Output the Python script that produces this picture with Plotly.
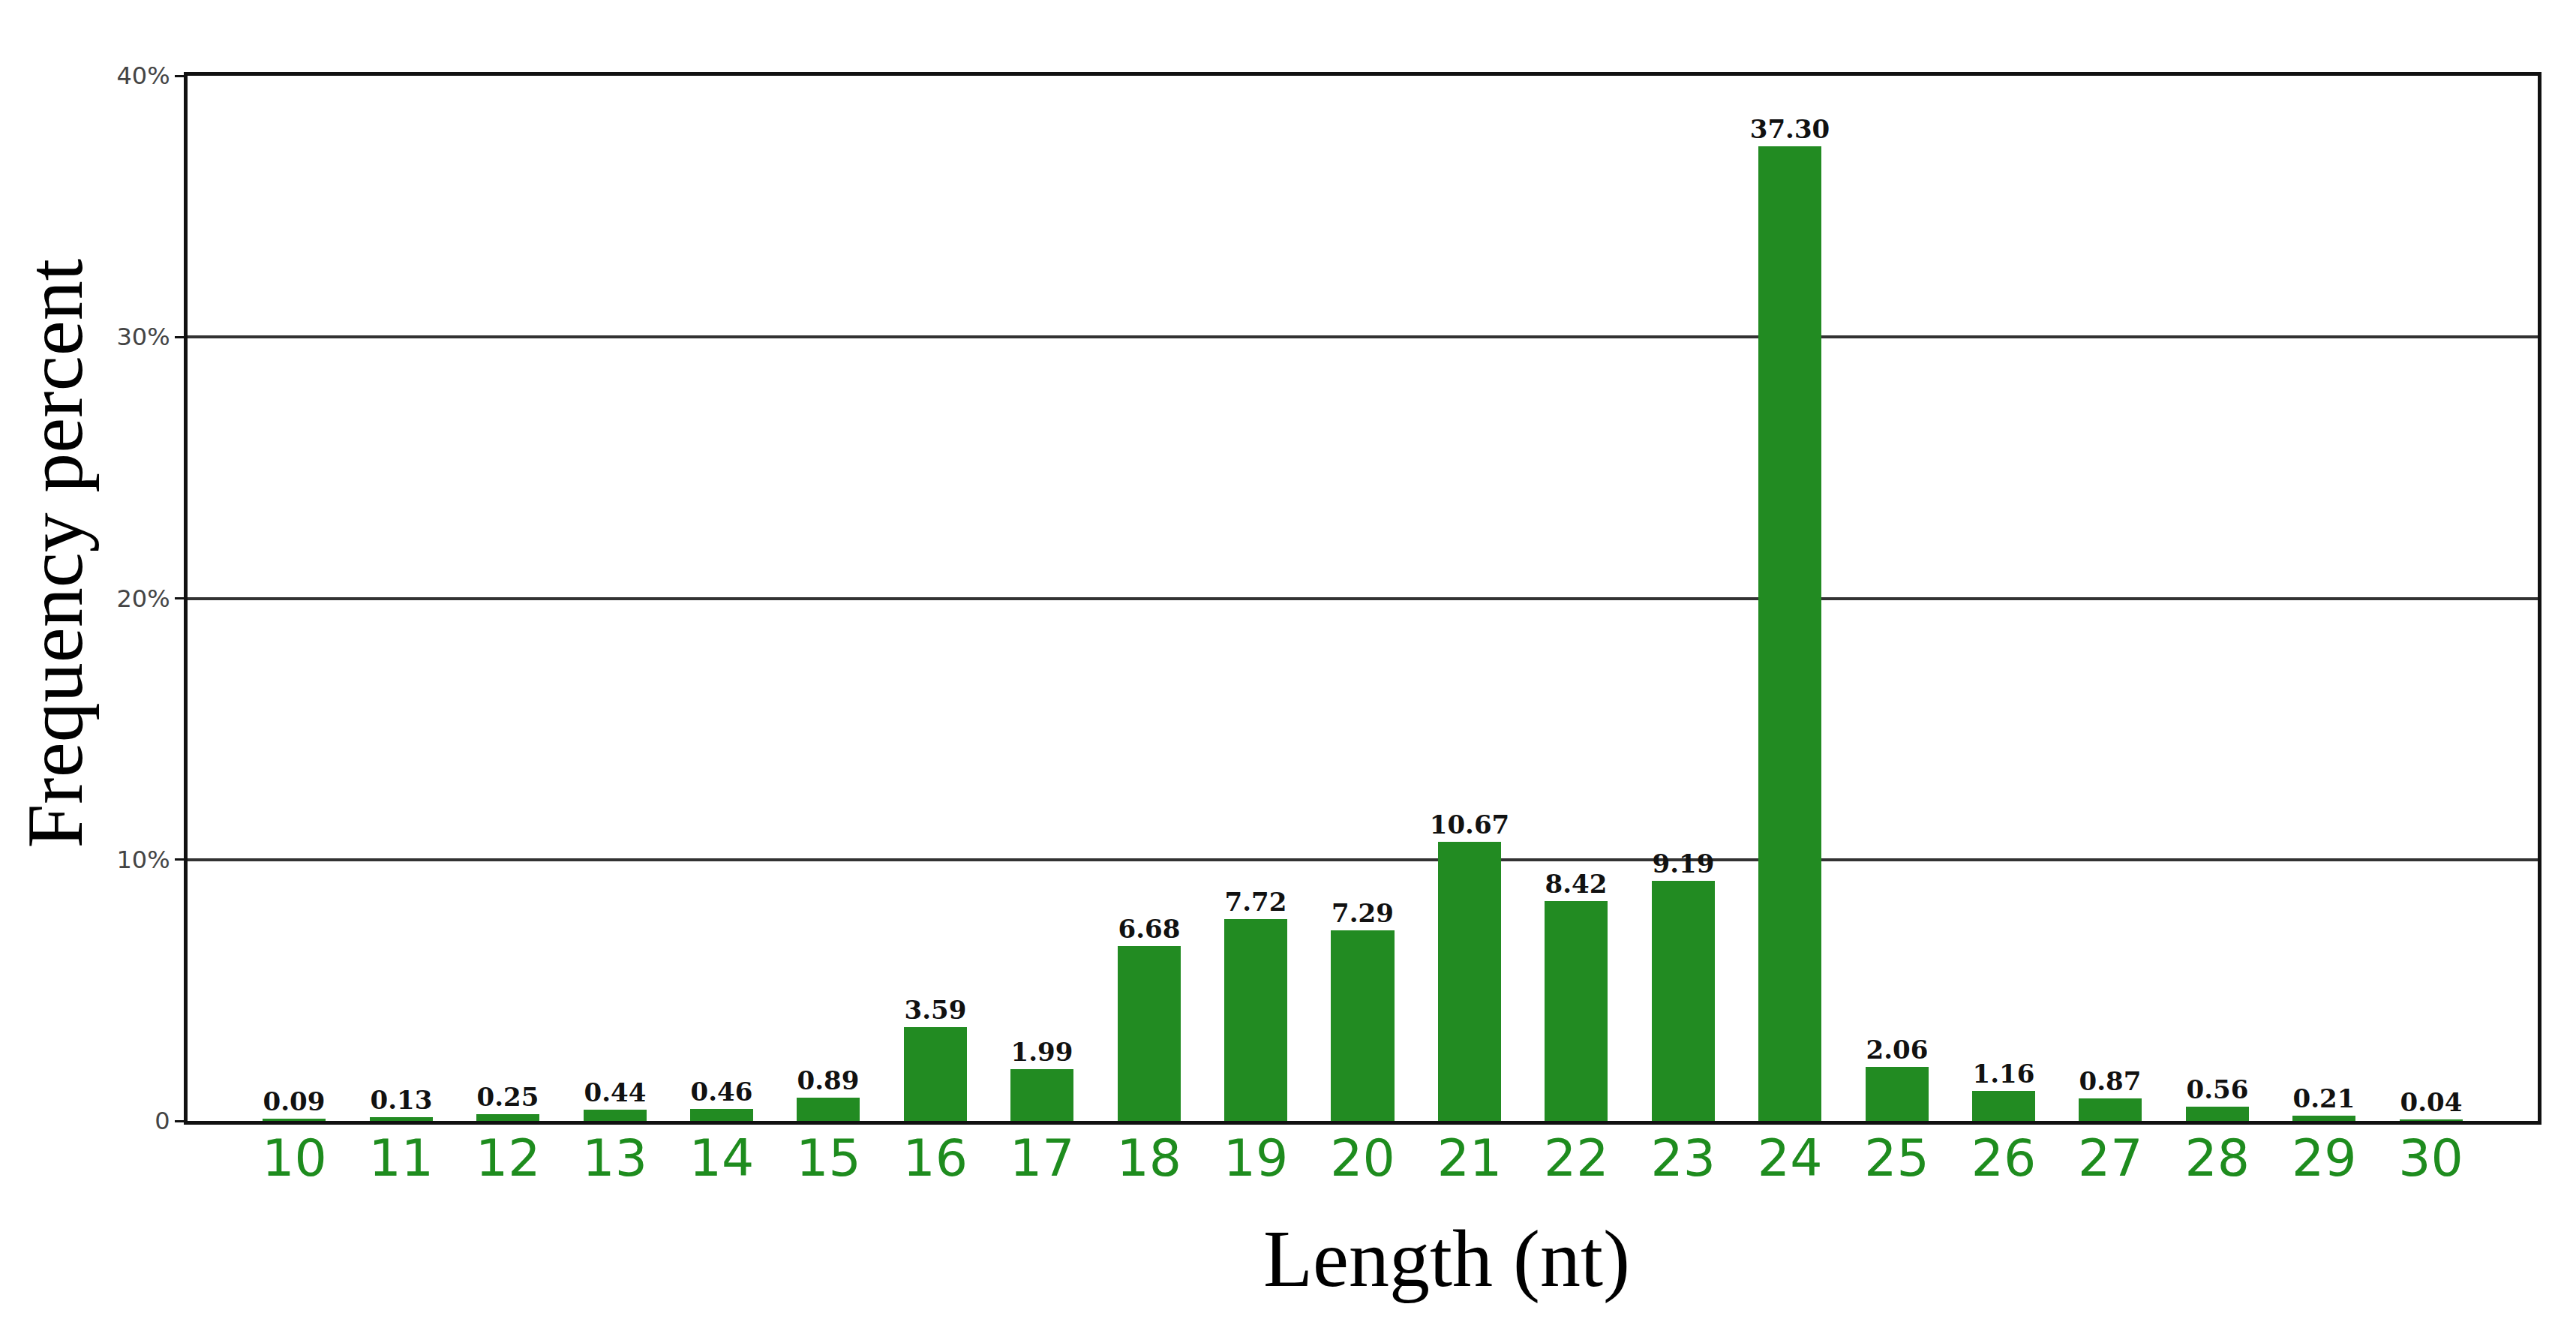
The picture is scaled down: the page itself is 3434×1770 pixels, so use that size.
import plotly.graph_objects as go

# read-length distribution
lengths = list(range(10, 31))
freq = [0.09, 0.13, 0.25, 0.44, 0.46, 0.89, 3.59, 1.99, 6.68, 7.72, 7.29,
        10.67, 8.42, 9.19, 37.30, 2.06, 1.16, 0.87, 0.56, 0.21, 0.04]

y_ticks = [0, 10, 20, 30, 40]
y_ticktext = ["0", "10%", "20%", "30%", "40%"]

fig = go.Figure()
fig.add_trace(go.Bar(
    x=lengths,
    y=freq,
    width=0.59,
    marker=dict(color="#228B22", line=dict(width=0)),
    text=["%.2f" % v for v in freq],
    textposition="outside",
    constraintext="none",
    cliponaxis=False,
    textfont=dict(family="DejaVu Serif", size=34, color="#111111", weight="bold"),
))

fig.update_layout(
    width=3434, height=1770,
    margin=dict(l=242, r=59, t=93, b=284),
    plot_bgcolor="white", paper_bgcolor="white",
    showlegend=False,
    bargap=0,
    xaxis=dict(
        range=[9, 31],
        tickvals=lengths,
        ticktext=[str(v) for v in lengths],
        tickfont=dict(family="DejaVu Sans", size=68, color="#1E8C1E"),
        showgrid=False, zeroline=False,
        showline=True, linecolor="#111111", linewidth=5, mirror=True,
        ticks="", ticklabelstandoff=-14,
    ),
    yaxis=dict(
        range=[0, 40],
        tickvals=y_ticks,
        ticktext=y_ticktext,
        tickfont=dict(family="DejaVu Sans", size=32, color="#444444"),
        showgrid=True, gridcolor="#333333", gridwidth=4,
        zeroline=False,
        showline=True, linecolor="#111111", linewidth=5, mirror=True,
        ticks="outside", ticklen=12, tickwidth=3, tickcolor="#111111",
    ),
    annotations=[
        dict(text="Frequency percent", textangle=-90,
             xref="paper", yref="paper", x=0, y=0.543,
             xanchor="center", yanchor="middle", xshift=-176, showarrow=False,
             font=dict(family="Liberation Serif", size=106, color="black")),
        dict(text="Length (nt)",
             xref="paper", yref="paper", x=0.5356, y=0,
             xanchor="center", yanchor="middle", yshift=-184, showarrow=False,
             font=dict(family="Liberation Serif", size=108, color="black")),
    ],
)

fig.write_html("out.html")
